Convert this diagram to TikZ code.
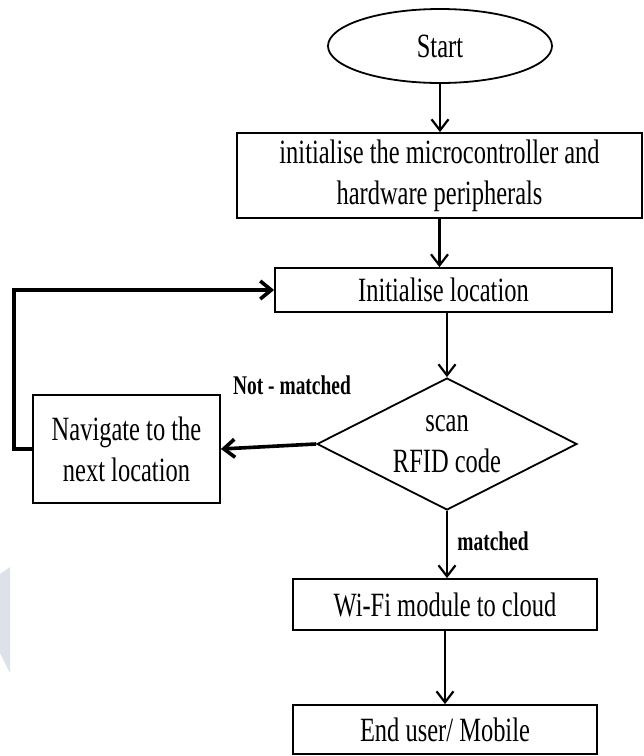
\documentclass[tikz,border=0pt]{standalone}
\usepackage{fontspec}
\setmainfont{Liberation Serif}[FakeStretch=0.72]
\usetikzlibrary{shapes.geometric,arrows.meta}
\definecolor{wmark}{HTML}{DCE1EA}
\begin{document}
\begin{tikzpicture}[x=1pt,y=-1pt,
  every node/.style={font=\fontsize{34}{41}\selectfont, align=center, inner sep=0pt},
  procbox/.style={draw, line width=1.8pt, rectangle},
  flowarr/.style={line width=2.2pt, -{Straight Barb[length=11pt,width=17pt]}},
  looparr/.style={line width=3.6pt, -{Straight Barb[length=11pt,width=18pt]}},
  edgelabel/.style={font=\bfseries\fontsize{27}{32}\selectfont}]
\useasboundingbox (0,0) rectangle (644,756);
% faint shape at the left margin
\fill[wmark] (0,574) -- (10,567) -- (10,673) -- (0,653) -- cycle;

% nodes
\node[draw, ellipse, line width=1.8pt, minimum width=224pt, minimum height=74pt] (start) at (440,46) {Start};
\node[procbox, minimum width=405pt, minimum height=85pt] (hw) at (439.5,175.5)
  {initialise the microcontroller and\\hardware peripherals};
\node[procbox, minimum width=337pt, minimum height=44pt] (loc) at (443.5,290) {Initialise location};
\node[draw, diamond, aspect=2, line width=1.8pt, minimum width=260pt, minimum height=132pt] (scan) at (447,444)
  {scan\\RFID code};
\node[procbox, minimum width=187pt, minimum height=108pt] (nav) at (126.5,449)
  {Navigate to the\\next location};
\node[procbox, minimum width=304pt, minimum height=51pt] (wifi) at (445,604.5) {Wi-Fi module to cloud};
\node[procbox, minimum width=304pt, minimum height=49pt] (end) at (445,729.5) {End user/ Mobile};

% edge labels
\node[edgelabel] (nm) at (292,385) {Not - matched};
\node[edgelabel] (mt) at (493,541) {matched};

% connectors
\draw[flowarr] (start.south) -- (start.south |- hw.north);
\draw[flowarr] (hw.south) -- (hw.south |- loc.north);
\draw[flowarr] (scan.north |- loc.south) -- (scan.north);
\draw[flowarr] (scan.south) -- (scan.south |- wifi.north);
\draw[flowarr] (wifi.south) -- (wifi.south |- end.north);
\draw[looparr] (scan.west) -- (nav.east);
\draw[looparr] (nav.west) -- ++(-18,0) |- (loc.west);
\end{tikzpicture}
\end{document}
